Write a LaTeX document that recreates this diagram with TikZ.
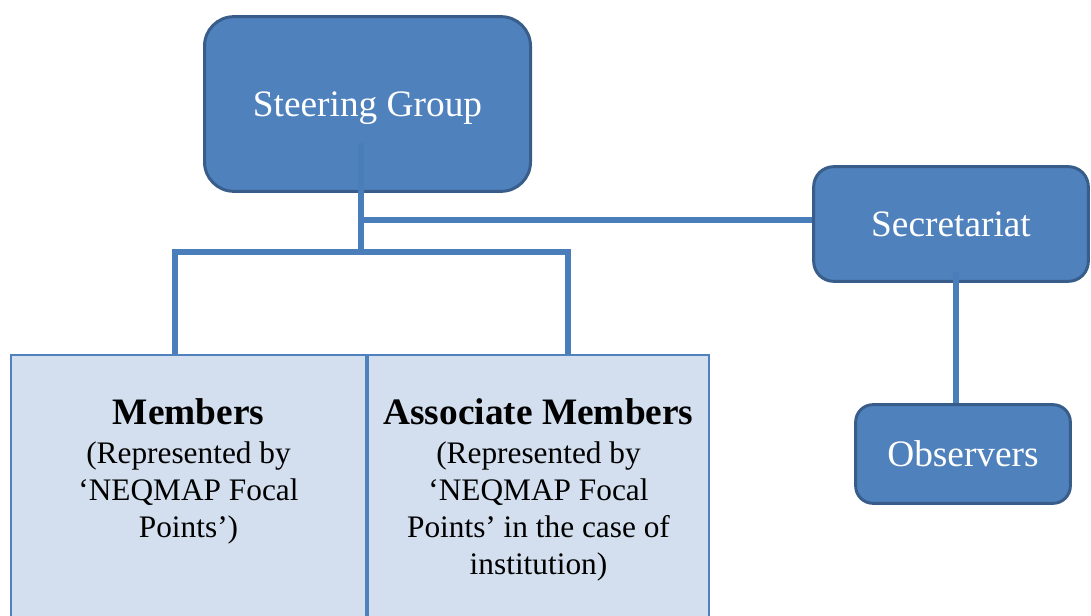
\documentclass[tikz,border=0pt]{standalone}
\usepackage{fontspec}
\setmainfont{Liberation Serif}
\usetikzlibrary{positioning}
\definecolor{boxblue}{HTML}{4F81BD}
\definecolor{boxedge}{HTML}{385D8A}
\definecolor{linkblue}{HTML}{4A7EBB}
\definecolor{memfill}{HTML}{D3DFEE}
\tikzset{
  bluebox/.style={draw=boxedge,line width=2.25pt,fill=boxblue,text=white,
    text depth=0pt,font=\fontsize{28}{33}\selectfont},
  membox/.style={draw=boxblue,line width=1.5pt,fill=memfill,inner sep=0pt,
    minimum height=210pt},
  memtext/.style={align=center,inner sep=0pt,font=\fontsize{23.5}{27.75}\selectfont},
  link/.style={draw=linkblue,line width=4.5pt}
}
\newcommand{\memhead}[1]{{\fontsize{28}{33}\selectfont\bfseries #1}}

\begin{document}
\begin{tikzpicture}[x=0.75pt,y=-0.75pt]
    \useasboundingbox (0,0) rectangle (1091,616);
    \node[bluebox,rounded corners=22pt,minimum width=244.5pt,minimum height=131pt]
        (steer) at (367.5,104) {Steering Group};
    \node[bluebox,rounded corners=15pt,minimum width=206pt,minimum height=86pt]
        (secr) at (951,224) {Secretariat};
    \node[bluebox,rounded corners=13pt,minimum width=161pt,minimum height=74pt]
        (obs) at (963,454) {Observers};
    \node[membox,anchor=north west,minimum width=266.25pt] (mem) at (10,354) {};
    \node[membox,minimum width=255.75pt,right=0pt of mem] (asso) {};
    \node[memtext,below=33pt of mem.north] (memtxt)
        {\memhead{Members}\\[2pt](Represented by\\‘NEQMAP Focal\\Points’)};
    \node[memtext,below=33pt of asso.north] (assotxt)
        {\memhead{Associate Members}\\[2pt](Represented by\\‘NEQMAP Focal\\Points’ in the case of\\institution)};
%   connectors
    \coordinate (steerfoot) at (361,143);
    \coordinate (secjoin) at (361,220);
    \coordinate (jm) at (361,252);
    \coordinate (jl) at (175,252);
    \coordinate (jr) at (568,252);
    \coordinate (secfoot) at (956,272);
    \draw[link] (steerfoot)--(jm);
    \draw[link] (secjoin)--(secjoin -| secr.west);
    \draw[link] (jl |- mem.north)--(jl)--(jr)--(jr |- asso.north);
    \draw[link] (secfoot)--(secfoot |- obs.north);
\end{tikzpicture}
\end{document}
